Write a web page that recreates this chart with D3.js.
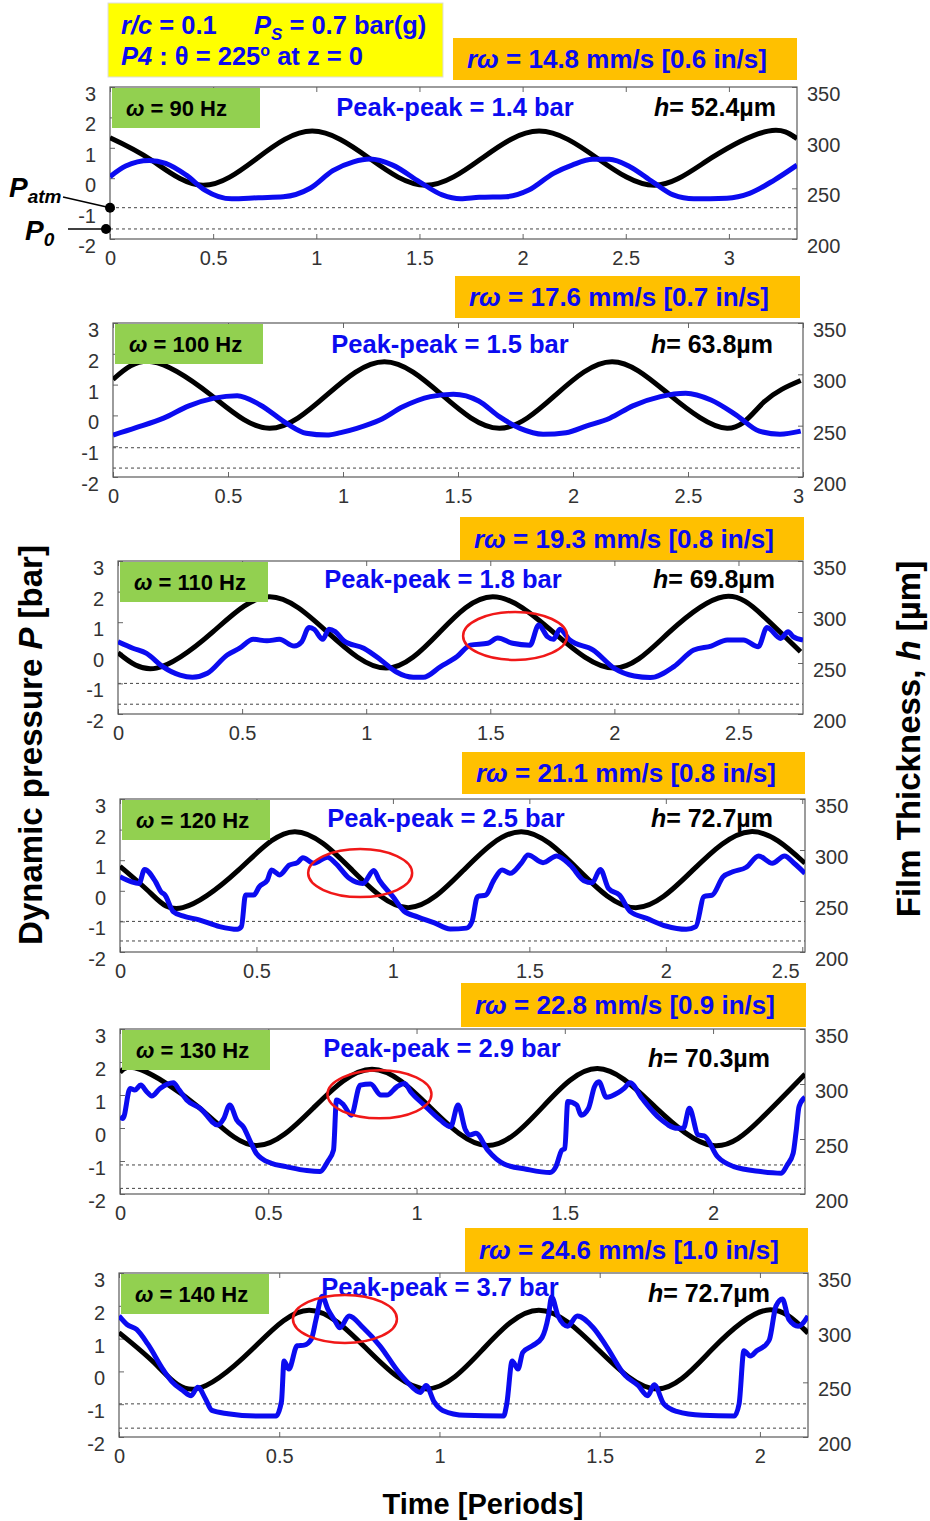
<!DOCTYPE html>
<html>
<head>
<meta charset="utf-8">
<script src="https://cdn.jsdelivr.net/npm/d3@7"></script>
<style>
  body { margin: 0; background: #fff; }
  text { font-family: "Liberation Sans", Arial, sans-serif; }
  .tick text { fill: #333; font-size: 20px; }
  .tick line { stroke: #666; }
</style>
</head>
<body>
<script>
// ---- data ----
const freqs = [90, 100, 110, 120, 130, 140];
const peakPeak = ['1.4', '1.5', '1.8', '2.5', '2.9', '3.7'];
const filmPP = ['52.4', '63.8', '69.8', '72.7', '70.3', '72.7'];
const speedMm = ['14.8', '17.6', '19.3', '21.1', '22.8', '24.6'];
const speedIn = ['0.6', '0.7', '0.8', '0.8', '0.9', '1.0'];
const periodsShown = [3.33, 3.0, 2.76, 2.51, 2.31, 2.15];
const pAtm = [-0.97, -1.05, -1.0, -1.0, -1.12, -0.99];
const pZero = [-1.67, -1.71, -1.68, -1.64, -1.83, -1.73];
const pTicks = [-2, -1, 0, 1, 2, 3];
const hTicks = [200, 250, 300, 350];
const xTickSets = [
  [0, 0.5, 1, 1.5, 2, 2.5, 3],
  [0, 0.5, 1, 1.5, 2, 2.5, 3],
  [0, 0.5, 1, 1.5, 2, 2.5],
  [0, 0.5, 1, 1.5, 2, 2.5],
  [0, 0.5, 1, 1.5, 2],
  [0, 0.5, 1, 1.5, 2]
];
// circled regions [period, bar]
const circled = [null, null, [1.60, 0.55], [0.88, 0.58], [0.875, 1.02], [0.705, 1.60]];

// film thickness h [um] vs time [periods]
const h90 = [[0,300],[0.2,278],[0.45,253],[0.715,280],[0.98,306.5],[1.255,280],[1.53,253],[1.805,280],[2.08,306.5],[2.36,280],[2.64,253],[2.915,280],[3.19,306.5],[3.33,299]];
const h100 = [[0,295],[0.17,312.3],[0.425,280],[0.68,247.5],[0.93,280],[1.18,312.3],[1.43,280],[1.68,247.5],[1.925,280],[2.17,312.3],[2.42,280],[2.67,247.5],[2.83,273],[2.99,294]];
const h110 = [[0,260],[0.155,245],[0.38,280],[0.61,315],[0.845,280],[1.08,245],[1.295,280],[1.51,315],[1.755,280],[2.0,245],[2.22,280],[2.44,315],[2.6,296],[2.75,261]];
const h120 = [[0,284],[0.115,257],[0.23,243.5],[0.435,280.5],[0.64,318],[0.85,280.5],[1.056,243.5],[1.26,280.5],[1.47,318],[1.68,280.5],[1.89,243.5],[2.10,280.5],[2.31,318],[2.51,287]];
const h130 = [[0,310.5],[0.07,313],[0.265,279],[0.46,244],[0.655,279],[0.85,313.5],[1.045,279],[1.24,244],[1.425,279],[1.61,314],[1.805,279],[2.0,244],[2.16,268],[2.31,309]];
const h140 = [[0,295.5],[0.12,265],[0.24,244],[0.415,280],[0.593,316],[0.775,280],[0.96,244],[1.135,280],[1.31,316],[1.495,280],[1.68,244],[1.85,280],[2.02,316],[2.15,295]];

// dynamic pressure P [bar] vs time [periods]
const p90 = [[0,0.05],[0.076,0.40],[0.19,0.58],[0.27,0.49],[0.37,0.10],[0.46,-0.39],[0.59,-0.68],[0.72,-0.64],[0.84,-0.61],[0.97,-0.33],[1.08,0.25],[1.18,0.54],[1.26,0.63],[1.37,0.43],[1.5,-0.12],[1.61,-0.55],[1.70,-0.68],[1.79,-0.63],[1.92,-0.61],[2.03,-0.39],[2.15,0.16],[2.24,0.43],[2.34,0.62],[2.42,0.62],[2.52,0.38],[2.63,-0.12],[2.73,-0.55],[2.83,-0.68],[2.99,-0.66],[3.10,-0.50],[3.22,-0.06],[3.33,0.43]];
const p100 = [[0,-0.64],[0.10,-0.40],[0.22,-0.09],[0.33,0.31],[0.44,0.56],[0.54,0.64],[0.64,0.34],[0.755,-0.26],[0.84,-0.58],[0.93,-0.64],[0.99,-0.56],[1.06,-0.42],[1.16,-0.15],[1.26,0.28],[1.38,0.61],[1.48,0.69],[1.59,0.47],[1.68,-0.04],[1.77,-0.42],[1.87,-0.61],[1.97,-0.56],[2.06,-0.34],[2.16,-0.09],[2.26,0.31],[2.38,0.61],[2.49,0.72],[2.6,0.5],[2.71,0.01],[2.81,-0.51],[2.90,-0.61],[2.99,-0.51]];
const p110 = [[0,0.36],[0.06,0.15],[0.115,-0.02],[0.18,-0.45],[0.25,-0.73],[0.30,-0.80],[0.36,-0.67],[0.44,-0.07],[0.49,0.15],[0.545,0.44],[0.60,0.39],[0.65,0.44],[0.71,0.22],[0.74,0.36],[0.77,0.83],[0.79,0.77],[0.825,0.44],[0.85,0.77],[0.875,0.69],[0.91,0.39],[0.99,0.15],[1.06,-0.24],[1.12,-0.62],[1.19,-0.80],[1.23,-0.80],[1.30,-0.45],[1.365,-0.13],[1.42,0.25],[1.49,0.31],[1.53,0.48],[1.59,0.31],[1.66,0.25],[1.695,0.91],[1.73,0.53],[1.755,0.44],[1.78,0.77],[1.82,0.42],[1.915,0.09],[2.0,-0.51],[2.08,-0.76],[2.145,-0.81],[2.24,-0.45],[2.32,0.09],[2.39,0.22],[2.455,0.42],[2.52,0.42],[2.58,0.2],[2.615,0.83],[2.67,0.47],[2.70,0.69],[2.72,0.53],[2.76,0.42]];
const p120 = [[0,0.46],[0.04,0.30],[0.07,0.24],[0.09,0.70],[0.13,0.30],[0.15,-0.03],[0.165,-0.14],[0.195,-0.68],[0.23,-0.82],[0.29,-0.95],[0.365,-1.17],[0.43,-1.26],[0.445,-1.17],[0.46,-0.14],[0.49,-0.14],[0.51,0.13],[0.54,0.35],[0.555,0.68],[0.585,0.52],[0.62,0.84],[0.65,0.92],[0.67,1.08],[0.71,0.90],[0.76,1.10],[0.79,0.90],[0.84,0.41],[0.89,0.24],[0.93,0.66],[0.95,0.35],[1.0,-0.19],[1.04,-0.66],[1.09,-0.85],[1.15,-1.04],[1.21,-1.25],[1.27,-1.22],[1.29,-1.0],[1.31,-0.19],[1.34,-0.14],[1.37,0.35],[1.40,0.68],[1.43,0.57],[1.47,0.90],[1.495,1.17],[1.55,0.92],[1.60,1.14],[1.65,0.84],[1.70,0.33],[1.73,0.26],[1.76,0.70],[1.79,0.08],[1.83,-0.14],[1.87,-0.68],[1.93,-0.90],[2.0,-1.15],[2.075,-1.26],[2.11,-1.17],[2.14,-0.19],[2.17,-0.14],[2.21,0.46],[2.245,0.62],[2.295,0.77],[2.34,1.14],[2.39,0.90],[2.435,1.14],[2.47,0.90],[2.51,0.57]];
const p130 = [[0,0.34],[0.01,0.29],[0.034,1.20],[0.05,1.15],[0.07,1.30],[0.09,1.10],[0.107,0.97],[0.135,1.20],[0.18,1.37],[0.20,1.15],[0.225,0.85],[0.27,0.60],[0.33,0.09],[0.35,0.29],[0.37,0.70],[0.394,0.24],[0.417,0.02],[0.44,-0.42],[0.46,-0.77],[0.51,-1.07],[0.56,-1.17],[0.63,-1.29],[0.675,-1.32],[0.70,-1.02],[0.72,-0.67],[0.73,0.85],[0.754,0.70],[0.78,0.39],[0.81,1.30],[0.845,1.33],[0.88,1.00],[0.90,1.00],[0.934,1.25],[0.96,1.35],[0.98,1.10],[1.025,0.70],[1.08,0.24],[1.115,0.04],[1.14,0.70],[1.165,-0.06],[1.18,-0.21],[1.20,-0.16],[1.24,-0.67],[1.295,-1.09],[1.37,-1.25],[1.45,-1.35],[1.47,-1.17],[1.49,-0.67],[1.50,-0.62],[1.51,0.80],[1.54,0.70],[1.555,0.39],[1.58,0.60],[1.60,1.25],[1.615,1.40],[1.64,0.93],[1.68,1.07],[1.70,1.20],[1.72,1.37],[1.76,0.90],[1.82,0.29],[1.88,-0.01],[1.90,-0.01],[1.92,0.60],[1.95,-0.21],[1.97,-0.24],[2.015,-0.87],[2.07,-1.17],[2.16,-1.32],[2.23,-1.37],[2.25,-1.12],[2.27,-0.77],[2.28,-0.11],[2.29,0.65],[2.31,0.93]];
const p140 = [[0,1.69],[0.025,1.43],[0.055,1.28],[0.09,0.83],[0.14,0.02],[0.165,-0.31],[0.2,-0.59],[0.225,-0.74],[0.246,-0.48],[0.27,-0.84],[0.29,-1.19],[0.34,-1.29],[0.43,-1.36],[0.49,-1.36],[0.507,-0.92],[0.515,0.32],[0.53,0.07],[0.556,0.78],[0.578,0.80],[0.60,0.98],[0.615,1.59],[0.634,2.29],[0.652,1.89],[0.674,1.54],[0.689,1.33],[0.718,1.69],[0.762,1.33],[0.814,0.78],[0.873,-0.03],[0.90,-0.33],[0.94,-0.64],[0.958,-0.43],[0.984,-0.94],[1.01,-1.19],[1.08,-1.34],[1.20,-1.36],[1.21,-0.99],[1.227,0.32],[1.245,0.07],[1.26,0.58],[1.29,0.78],[1.32,1.03],[1.34,1.69],[1.35,2.27],[1.37,1.69],[1.40,1.38],[1.43,1.69],[1.48,1.33],[1.52,0.78],[1.58,-0.13],[1.62,-0.43],[1.65,-0.74],[1.67,-0.41],[1.70,-0.99],[1.74,-1.22],[1.82,-1.34],[1.92,-1.36],[1.935,-0.99],[1.95,0.63],[1.97,0.47],[1.99,0.63],[2.02,0.83],[2.03,0.98],[2.05,1.99],[2.07,2.21],[2.09,1.59],[2.12,1.38],[2.15,1.69]];

const pressure = [p90, p100, p110, p120, p130, p140];
const film = [h90, h100, h110, h120, h130, h140];

// ---- layout ----
const W = 930, H = 1521;
const blue = '#0b0bf0';
// [left, right, top, bottom] of each plot frame
const plotBoxes = [
  [110, 797, 87, 239],
  [113, 803, 323, 477],
  [118, 803, 561, 714],
  [120, 805, 799, 952],
  [120, 805, 1029, 1194],
  [119, 808, 1273, 1437]
];
// [x1, x2, y1, y2] of the orange speed boxes
const orangeBoxes = [
  [453, 797, 38, 80],
  [455, 800, 276, 318],
  [460, 804, 517, 560],
  [462, 805, 752, 794],
  [461, 806, 983, 1027],
  [465, 808, 1228, 1272]
];
const ppPos = [[455, 116], [450, 353], [443, 588], [446, 827], [442, 1057], [440, 1296]];
const hPos = [[776, 116], [773, 353], [775, 588], [773, 827], [770, 1067], [770, 1302]];
// horizontal nudge of the last bottom tick label, where it sits at the frame corner
const lastLabelNudge = [0, -5, 0, -17, 0, 0];

const svg = d3.select('body').append('svg')
  .attr('width', W)
  .attr('height', H)
  .attr('xmlns', 'http://www.w3.org/2000/svg');

svg.append('rect').attr('width', W).attr('height', H).attr('fill', '#fff');

// header box
svg.append('rect')
  .attr('x', 108).attr('y', 3).attr('width', 335).attr('height', 74)
  .attr('fill', '#ffff00').attr('stroke', '#ddd');
const l1 = svg.append('text').attr('x', 121).attr('y', 34)
  .attr('font-size', 25.5).attr('font-weight', 'bold').attr('fill', blue);
l1.append('tspan').attr('font-style', 'italic').text('r/c');
l1.append('tspan').text(' = 0.1');
l1.append('tspan').attr('x', 254).attr('font-style', 'italic').text('P');
l1.append('tspan').attr('font-style', 'italic').attr('font-size', 17).attr('dy', 6).text('S');
l1.append('tspan').attr('dy', -6).text(' = 0.7 bar(g)');
const l2 = svg.append('text').attr('x', 121).attr('y', 65)
  .attr('font-size', 25.5).attr('font-weight', 'bold').attr('fill', blue);
l2.append('tspan').attr('font-style', 'italic').text('P4');
l2.append('tspan').text(' : θ = 225');
l2.append('tspan').attr('font-size', 16).attr('dy', -9).text('o');
l2.append('tspan').attr('dy', 9).text(' at z = 0');

function drawPanel(i) {
  const [L, R, T, B] = plotBoxes[i];
  const x = d3.scaleLinear().domain([0, periodsShown[i]]).range([L, R]);
  const yP = d3.scaleLinear().domain([-2, 3]).range([B, T]);
  const yH = d3.scaleLinear().domain([200, 350]).range([B, T]);
  const g = svg.append('g').attr('class', 'panel');

  // speed box
  const [ox1, ox2, oy1, oy2] = orangeBoxes[i];
  g.append('rect')
    .attr('x', ox1).attr('y', oy1)
    .attr('width', ox2 - ox1).attr('height', oy2 - oy1)
    .attr('fill', '#ffc000');
  const st = g.append('text')
    .attr('x', ox1 + 14).attr('y', (oy1 + oy2) / 2 + 9)
    .attr('font-size', 26).attr('font-weight', 'bold').attr('fill', blue);
  st.append('tspan').attr('font-style', 'italic').text('rω');
  st.append('tspan').text(` = ${speedMm[i]} mm/s [${speedIn[i]} in/s]`);

  // reference pressure levels
  [pAtm[i], pZero[i]].forEach(v => {
    g.append('line')
      .attr('x1', L).attr('x2', R)
      .attr('y1', yP(v)).attr('y2', yP(v))
      .attr('stroke', '#444').attr('stroke-width', 1)
      .attr('stroke-dasharray', '3,3');
  });

  // axes
  g.append('g')
    .attr('transform', `translate(${L},0)`)
    .call(d3.axisLeft(yP).tickValues(pTicks).tickFormat(d => String(d))
      .tickSizeInner(-5).tickSizeOuter(0).tickPadding(14))
    .call(a => { a.select('.domain').remove(); a.selectAll('text').attr('y', 7); });

  g.append('g')
    .attr('transform', `translate(${R},0)`)
    .call(d3.axisRight(yH).tickValues(hTicks)
      .tickSizeInner(-5).tickSizeOuter(0).tickPadding(10))
    .call(a => { a.select('.domain').remove(); a.selectAll('text').attr('y', 7); });

  const lastTick = xTickSets[i][xTickSets[i].length - 1];
  g.append('g')
    .attr('transform', `translate(0,${B})`)
    .call(d3.axisBottom(x).tickValues(xTickSets[i]).tickFormat(d3.format('~g'))
      .tickSizeInner(-5).tickSizeOuter(0).tickPadding(12))
    .call(a => {
      a.select('.domain').remove();
      a.selectAll('text').filter(d => d === lastTick).attr('dx', lastLabelNudge[i]);
    });

  g.append('g')
    .attr('transform', `translate(0,${T})`)
    .call(d3.axisTop(x).tickValues(xTickSets[i]).tickFormat('')
      .tickSizeInner(-5).tickSizeOuter(0))
    .call(a => a.select('.domain').remove());

  g.append('rect')
    .attr('x', L).attr('y', T)
    .attr('width', R - L).attr('height', B - T)
    .attr('fill', 'none').attr('stroke', '#5a5a5a').attr('stroke-width', 1.2);

  // texts in the plot
  g.append('text')
    .attr('x', ppPos[i][0]).attr('y', ppPos[i][1])
    .attr('text-anchor', 'middle')
    .attr('font-size', 25.5).attr('font-weight', 'bold').attr('fill', blue)
    .text(`Peak-peak = ${peakPeak[i]} bar`);

  const ht = g.append('text')
    .attr('x', hPos[i][0]).attr('y', hPos[i][1])
    .attr('text-anchor', 'end')
    .attr('font-size', 25).attr('font-weight', 'bold').attr('fill', '#000');
  ht.append('tspan').attr('font-style', 'italic').text('h');
  ht.append('tspan').text(`= ${filmPP[i]}µm`);

  // curves
  g.append('clipPath').attr('id', `clip${i}`)
    .append('rect').attr('x', L).attr('y', T).attr('width', R - L).attr('height', B - T);
  const plot = g.append('g').attr('clip-path', `url(#clip${i})`);

  const hLine = d3.line()
    .x(d => x(d[0]))
    .y(d => yH(d[1]))
    .curve(d3.curveNatural);
  plot.append('path')
    .datum(film[i])
    .attr('d', hLine)
    .attr('fill', 'none').attr('stroke', '#000').attr('stroke-width', 5);

  const pLine = d3.line()
    .x(d => x(d[0]))
    .y(d => yP(d[1]))
    .curve(d3.curveMonotoneX);
  plot.append('path')
    .datum(pressure[i])
    .attr('d', pLine)
    .attr('fill', 'none').attr('stroke', blue).attr('stroke-width', 5)
    .attr('stroke-linejoin', 'round');

  // frequency label
  g.append('rect')
    .attr('x', L + 2).attr('y', T + 1)
    .attr('width', 148).attr('height', 40)
    .attr('fill', '#92d050');
  const ft = g.append('text')
    .attr('x', L + 16).attr('y', T + 29)
    .attr('font-size', 22).attr('font-weight', 'bold').attr('fill', '#000');
  ft.append('tspan').attr('font-style', 'italic').text('ω');
  ft.append('tspan').text(` = ${freqs[i]} Hz`);

  if (circled[i]) {
    g.append('ellipse')
      .attr('cx', x(circled[i][0])).attr('cy', yP(circled[i][1]))
      .attr('rx', 52).attr('ry', 24)
      .attr('fill', 'none').attr('stroke', '#f01818').attr('stroke-width', 2.5);
  }

  return {x, yP, L};
}

const panels = freqs.map((f, i) => drawPanel(i));

// P_atm and P_0 markers on the first panel
const first = panels[0];
const yAtm = first.yP(pAtm[0]);
const yZero = first.yP(pZero[0]);
const ta = svg.append('text').attr('x', 9).attr('y', 197)
  .attr('font-size', 28).attr('font-weight', 'bold').attr('font-style', 'italic');
ta.append('tspan').text('P');
ta.append('tspan').attr('font-size', 19).attr('dy', 6).text('atm');
svg.append('line').attr('x1', 63).attr('y1', 197).attr('x2', first.L).attr('y2', yAtm)
  .attr('stroke', '#000').attr('stroke-width', 1.5);
svg.append('circle').attr('cx', first.L).attr('cy', yAtm).attr('r', 5).attr('fill', '#000');

const t0 = svg.append('text').attr('x', 25).attr('y', 240)
  .attr('font-size', 28).attr('font-weight', 'bold').attr('font-style', 'italic');
t0.append('tspan').text('P');
t0.append('tspan').attr('font-size', 19).attr('dy', 6).text('0');
svg.append('line').attr('x1', 68).attr('y1', yZero).attr('x2', first.L - 4).attr('y2', yZero)
  .attr('stroke', '#000').attr('stroke-width', 1.5);
svg.append('circle').attr('cx', first.L - 4).attr('cy', yZero).attr('r', 5).attr('fill', '#000');

// axis titles
const yl = svg.append('text')
  .attr('transform', 'translate(42,745) rotate(-90)')
  .attr('text-anchor', 'middle')
  .attr('font-size', 33).attr('font-weight', 'bold');
yl.append('tspan').text('Dynamic pressure ');
yl.append('tspan').attr('font-style', 'italic').text('P');
yl.append('tspan').text('  [bar]');

const yr = svg.append('text')
  .attr('transform', 'translate(920,739) rotate(-90)')
  .attr('text-anchor', 'middle')
  .attr('font-size', 33).attr('font-weight', 'bold');
yr.append('tspan').text('Film Thickness, ');
yr.append('tspan').attr('font-style', 'italic').text('h');
yr.append('tspan').text(' [µm]');

svg.append('text')
  .attr('x', 483).attr('y', 1514)
  .attr('text-anchor', 'middle')
  .attr('font-size', 29).attr('font-weight', 'bold')
  .text('Time [Periods]');
</script>
</body>
</html>
